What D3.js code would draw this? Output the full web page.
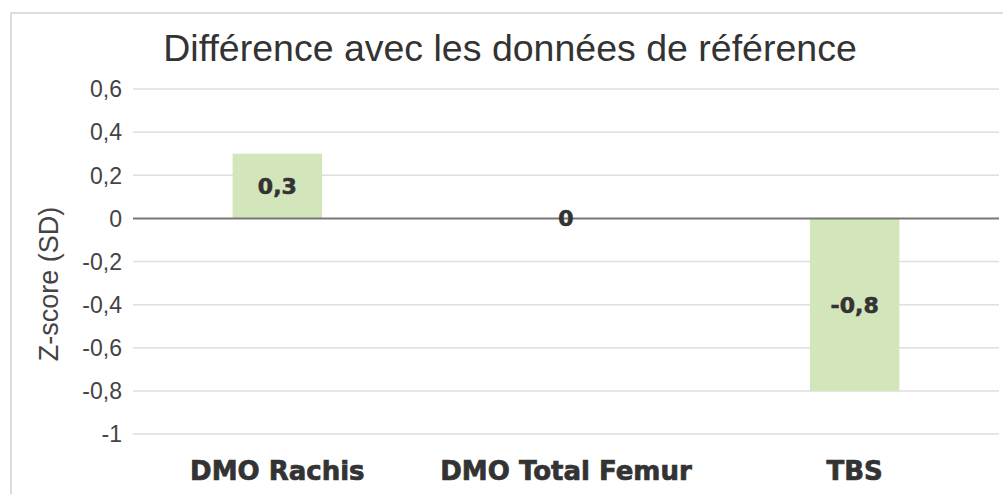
<!DOCTYPE html>
<html>
<head>
<meta charset="utf-8">
<script src="https://cdn.jsdelivr.net/npm/d3@7"></script>
<style>
  body { margin: 0; background: #fff; }
  svg { display: block; }
</style>
</head>
<body>
<div id="chart"></div>
<script>
const categories = ["DMO Rachis", "DMO Total Femur", "TBS"]
const zscores = [0.3, 0, -0.8]
const yTicks = [0.6, 0.4, 0.2, 0, -0.2, -0.4, -0.6, -0.8, -1]

const width = 1003
const height = 494
const margin = {top: 89, right: 4, bottom: 60, left: 133}

const fmt = d => d3.format(".1~f")(d).replace(".", ",").replace("−", "-")

const svg = d3.select("#chart")
  .append("svg")
  .attr("width", width)
  .attr("height", height)

// outer frame
svg.append("rect")
  .attr("x", 11).attr("y", 13)
  .attr("width", width + 20).attr("height", height + 20)
  .attr("fill", "none")
  .attr("stroke", "#dcdcdc")
  .attr("stroke-width", 2)

const x = d3.scaleBand()
  .domain(categories)
  .range([margin.left, width - margin.right])
  .paddingInner(0.69)
  .paddingOuter(0.345)

const y = d3.scaleLinear()
  .domain([-1, 0.6])
  .range([434, margin.top])

// grid
svg.append("g")
  .selectAll("line")
  .data(yTicks.filter(d => d !== 0))
  .join("line")
  .attr("x1", margin.left)
  .attr("x2", width - margin.right)
  .attr("y1", d => y(d))
  .attr("y2", d => y(d))
  .attr("stroke", "#dedede")
  .attr("stroke-width", 1.5)

// y tick labels
svg.append("g")
  .selectAll("text")
  .data(yTicks)
  .join("text")
  .attr("x", 122)
  .attr("y", d => y(d))
  .attr("dy", "0.36em")
  .attr("text-anchor", "end")
  .style("font-family", "'Liberation Sans', Arial, sans-serif")
  .style("font-size", "23px")
  .style("fill", "#444")
  .text(fmt)

// bars
svg.append("g")
  .selectAll("rect")
  .data(zscores)
  .join("rect")
  .attr("x", (d, i) => x(categories[i]))
  .attr("width", x.bandwidth())
  .attr("y", d => y(Math.max(0, d)))
  .attr("height", d => Math.abs(y(d) - y(0)))
  .attr("fill", "#d3e5bb")

// zero line
svg.append("line")
  .attr("x1", margin.left)
  .attr("x2", width - margin.right)
  .attr("y1", y(0))
  .attr("y2", y(0))
  .attr("stroke", "#777")
  .attr("stroke-width", 2)

// value labels
svg.append("g")
  .selectAll("text")
  .data(zscores)
  .join("text")
  .attr("x", (d, i) => x(categories[i]) + x.bandwidth() / 2)
  .attr("y", d => (y(d) + y(0)) / 2)
  .attr("dy", "0.36em")
  .attr("text-anchor", "middle")
  .style("font-family", "'DejaVu Sans', sans-serif")
  .style("font-weight", "bold")
  .style("font-size", "22px")
  .style("fill", "#333")
  .style("stroke", "#333")
  .style("stroke-width", 0.6)
  .text(fmt)

// category labels
svg.append("g")
  .selectAll("text")
  .data(categories)
  .join("text")
  .attr("x", d => x(d) + x.bandwidth() / 2)
  .attr("y", 471)
  .attr("dy", "0.36em")
  .attr("text-anchor", "middle")
  .style("font-family", "'DejaVu Sans', sans-serif")
  .style("font-weight", "bold")
  .style("font-size", "26px")
  .style("fill", "#333")
  .style("stroke", "#333")
  .style("stroke-width", 0.7)
  .text(d => d)

// y axis title
svg.append("text")
  .attr("transform", "translate(48,284) rotate(-90)")
  .attr("dy", "0.36em")
  .attr("text-anchor", "middle")
  .style("font-family", "'Liberation Sans', Arial, sans-serif")
  .style("font-size", "27px")
  .style("fill", "#444")
  .text("Z-score (SD)")

// title
svg.append("text")
  .attr("x", 510)
  .attr("y", 47)
  .attr("dy", "0.36em")
  .attr("text-anchor", "middle")
  .style("font-family", "'Liberation Sans', Arial, sans-serif")
  .style("font-size", "37.5px")
  .style("fill", "#333")
  .text("Différence avec les données de référence")
</script>
</body>
</html>
